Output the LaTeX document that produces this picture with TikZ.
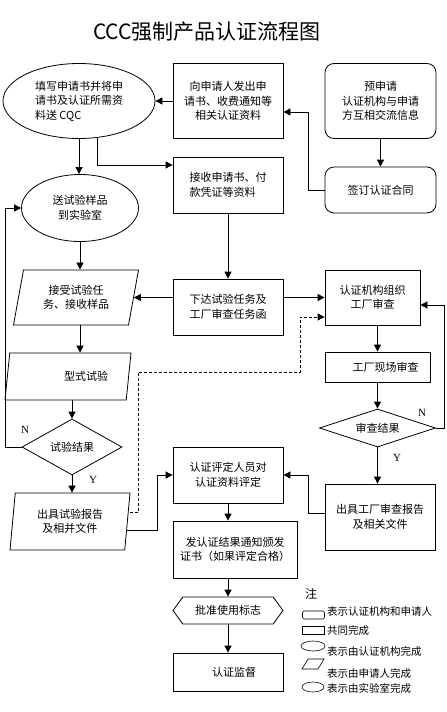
\documentclass[tikz,border=0pt]{standalone}
\usepackage{fontspec}
\setmainfont{Noto Sans CJK SC}
\newfontfamily\latinserif{Liberation Serif}
\usetikzlibrary{shapes.geometric,shapes.symbols,arrows.meta,calc}
\begin{document}
\begin{tikzpicture}[x=1pt,y=-1pt,
  every node/.style={inner sep=0pt, font=\fontsize{11}{14.5}\selectfont, align=center},
  shp/.style={draw, line width=0.8pt},
  para/.style={shp, trapezium, trapezium stretches body},
  arr/.style={line width=0.8pt, -{Triangle[length=7pt,width=7pt]}},
  darr/.style={arr, dash pattern=on 3pt off 2pt},
  lbl/.style={font=\latinserif\fontsize{11}{11}\selectfont},
  lgt/.style={anchor=west, font=\fontsize{10.5}{12}\selectfont}]
\useasboundingbox[fill=white] (0,0) rectangle (447,712);

\node[font=\fontsize{21}{21}\selectfont] (title) at (207,32) {CCC强制产品认证流程图};

\node[shp, ellipse, minimum width=152pt, minimum height=75pt, align=left] (e1) at (79,101) {填写申请书并将申\\请书及认证所需资\\料送 CQC};
\node[shp, minimum width=110pt, minimum height=75pt] (r2) at (228,101) {向申请人发出申\\请书、收费通知等\\相关认证资料};
\node[shp, rounded corners=9pt, minimum width=111pt, minimum height=75pt] (p3) at (380.5,101) {预申请\\认证机构与申请\\方互相交流信息};
\node[shp, rounded corners=9pt, minimum width=111pt, minimum height=46pt] (c4) at (380.5,190) {签订认证合同};
\node[shp, minimum width=110pt, minimum height=56pt, align=left] (r5) at (228,185) {接收申请书、付\\款凭证等资料};
\node[shp, ellipse, minimum width=117pt, minimum height=67pt] (e6) at (80,208) {送试验样品\\到实验室};
\node[para, trapezium left angle=68, trapezium right angle=112, minimum width=125pt, minimum height=55pt] (pl7) at (76,297.5) {接受试验任\\务、接收样品};
\node[shp, minimum width=110pt, minimum height=56pt] (r8) at (228,307) {下达试验任务及\\工厂审查任务函};
\node[shp, minimum width=95pt, minimum height=55pt] (r9) at (372.5,297.5) {认证机构组织\\工厂审查};
\node[para, trapezium left angle=65, trapezium right angle=115, minimum width=126pt, minimum height=47pt] (pl10) at (68,376.5) {\hspace*{36pt}型式试验};
\node[shp, diamond, aspect=1.8, minimum width=100pt, minimum height=56pt] (d11) at (72,447) {试验结果};
\node[para, trapezium left angle=78, trapezium right angle=102, minimum width=120pt, minimum height=57pt] (pl12) at (70,521.5) {出具试验报告\\及相并文件};
\node[shp, minimum width=110pt, minimum height=56pt] (r13) at (228,475) {认证评定人员对\\认证资料评定};
\node[shp, minimum width=110pt, minimum height=66pt] (r14) at (380,517) {出具工厂审查报告\\及相关文件};
\node[shp, minimum width=105pt, minimum height=30pt] (r15) at (377.5,367) {\hspace*{16pt}工厂现场审查};
\node[shp, diamond, aspect=3, minimum width=116pt, minimum height=38pt] (d16) at (377.5,428) {审查结果};
\node[shp, minimum width=124pt, minimum height=57pt] (r17) at (235,549.5) {发认证结果通知颁发\\证书（如果评定合格）};
\node[shp, signal, signal to=west and east, signal pointer angle=108, minimum width=110pt, minimum height=27pt] (h18) at (228,610.5) {批准使用标志};
\node[shp, minimum width=110pt, minimum height=38pt] (r19) at (228,672) {\hspace*{12pt}认证监督};

\node[lbl] (n1) at (25,430) {N};
\node[lbl] (y1) at (93,480) {Y};
\node[lbl] (n2) at (422,413) {N};
\node[lbl] (y2) at (397,458) {Y};

% legend
\node[anchor=west, font=\fontsize{12}{12}\selectfont] (note) at (305,594) {注};
\node[shp, line width=0.6pt, rounded corners=2pt, minimum width=22pt, minimum height=8pt] (lg1) at (313.5,615) {};
\node[lgt] (lt1) at (327,612) {表示认证机构和申请人};
\node[shp, line width=0.6pt, minimum width=22pt, minimum height=8pt] (lg2) at (313.5,630) {};
\node[lgt] (lt2) at (327,630) {共同完成};
\node[shp, line width=0.6pt, ellipse, minimum width=24pt, minimum height=10pt] (lg3) at (313,646) {};
\node[lgt] (lt3) at (327,651) {表示由认证机构完成};
\draw[line width=0.6pt] (302,669) -- (308,659) -- (324,659) -- (318,669) -- cycle;
\node[lgt] (lt4) at (327,673) {表示由申请人完成};
\node[shp, line width=0.6pt, ellipse, minimum width=22pt, minimum height=10pt] (lg5) at (313,687) {};
\node[lgt] (lt5) at (327,688) {表示由实验室完成};

% connectors
\coordinate (dq) at (300,317);
\draw[arr] (r2.west) -- (e1.east);
\draw[arr] (c4.west) -| (308,112) -- ($(r2.east)+(0,11)$);
\draw[arr] (p3.south) -- (c4.north);
\draw[arr] (e1.south) -- (e1.south |- e6.north);
\draw[arr] ($(e1.south)+(18,-1)$) |- ($(r5.west)+(0,-20)$);
\draw[arr] (e6.south) -- (e6.south |- pl7.north);
\draw[arr] (r5.south) -- (r8.north);
\draw[arr] (r8.west |- pl7.east) -- (pl7.east);
\draw[arr] (r8.east |- r9.west) -- (r9.west);
\draw[arr] (e6.south |- pl7.south) -- (e6.south |- pl10.north);
\draw[arr] (d11.north |- pl10.south) -- (d11.north);
\draw[arr] (d11.south) -- (d11.south |- pl12.north);
\draw[arr] (d11.west) -| ($(e6.west)+(-16,0)$) -- (e6.west);
\draw[darr] ($(pl12.east)+(2,-9)$) -| (138,372) -| (dq) -- (r9.west |- dq);
\draw[arr] ($(pl12.east)+(-1,9)$) -| (157,475) -- (r13.west);
\draw[arr] ($(r14.west)+(0,-4)$) -| (308,475) -- (r13.east);
\draw[arr] (r15.north |- r9.south) -- (r15.north);
\draw[arr] (r15.south) -- (d16.north);
\draw[arr] (d16.south) -- (d16.south |- r14.north);
\draw[arr] (d16.east) -| (444,305) -- ($(r9.east)+(0,7.5)$);
\draw[arr] (r13.south) -- (r13.south |- r17.north);
\draw[arr] (h18.north |- r17.south) -- (h18.north);
\draw[arr] (h18.south) -- (r19.north);
\end{tikzpicture}
\end{document}
